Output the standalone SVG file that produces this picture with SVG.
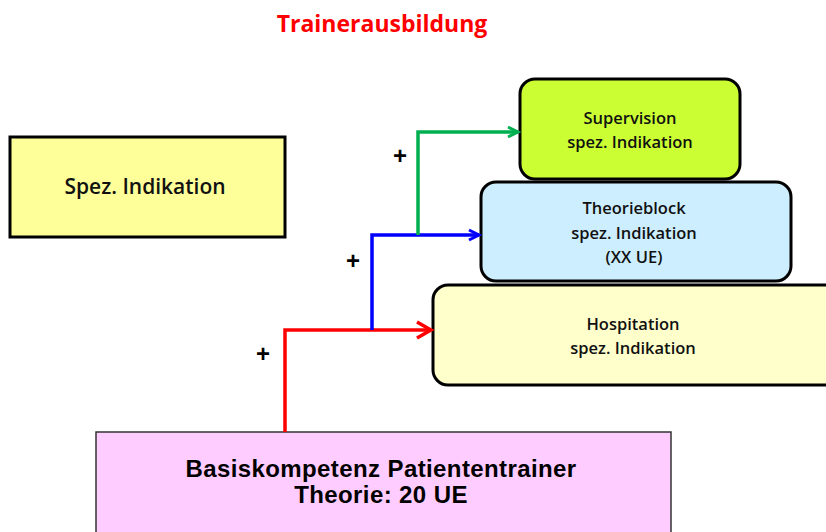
<svg xmlns="http://www.w3.org/2000/svg" width="826" height="532" viewBox="0 0 826 532">
<style>
.box{stroke:#000;stroke-width:3}
.t{font-family:"Open Sans","Noto Sans",sans-serif;font-weight:600;text-anchor:middle;fill:#111}
.s{font-size:16.5px}
.a{font-family:"Liberation Sans",Arial,sans-serif;font-weight:bold;text-anchor:middle;fill:#000;font-size:24px;letter-spacing:0.4px}
.c{fill:none;stroke-width:3.5}
.plus{font-family:"Liberation Sans",Arial,sans-serif;font-weight:bold;font-size:24px;text-anchor:middle;fill:#000}
</style>
<defs>
<marker id="mr" markerWidth="12" markerHeight="12" refX="10" refY="6" orient="auto" markerUnits="userSpaceOnUse" viewBox="0 0 12 12" overflow="visible">
<polyline points="-4,-2 10,6 -4,14" fill="none" stroke="#ff0000" stroke-width="3.5"/>
</marker>
<marker id="mb" markerWidth="12" markerHeight="12" refX="10" refY="6" orient="auto" markerUnits="userSpaceOnUse" viewBox="0 0 12 12" overflow="visible">
<polyline points="0,1 10,6 0,11" fill="none" stroke="#0000ff" stroke-width="3"/>
</marker>
<marker id="mg" markerWidth="12" markerHeight="12" refX="10" refY="6" orient="auto" markerUnits="userSpaceOnUse" viewBox="0 0 12 12" overflow="visible">
<polyline points="0,1 10,6 0,11" fill="none" stroke="#00b050" stroke-width="3"/>
</marker>
</defs>
<rect width="826" height="532" fill="#fff"/>
<text x="382" y="32" font-family="'Open Sans','Noto Sans',sans-serif" font-weight="bold" font-size="23" text-anchor="middle" fill="#ff0000">Trainerausbildung</text>

<g id="spez">
<rect class="box" x="10" y="137" width="275" height="100" fill="#ffff99"/>
<text class="t" x="145" y="194" font-size="21">Spez. Indikation</text>
</g>

<g id="supervision">
<rect class="box" x="520" y="79" width="220" height="100" rx="15" fill="#ccff33"/>
<text class="t s" x="630" y="124">Supervision</text>
<text class="t s" x="630" y="148">spez. Indikation</text>
</g>

<g id="theorieblock">
<rect class="box" x="481" y="182" width="310" height="99" rx="15" fill="#cdeefe"/>
<text class="t s" x="634" y="214">Theorieblock</text>
<text class="t s" x="634" y="239">spez. Indikation</text>
<text class="t s" x="634" y="263">(XX UE)</text>
</g>

<g id="hospitation">
<rect class="box" x="433" y="285" width="410" height="100" rx="15" fill="#ffffcc"/>
<text class="t s" x="633" y="330">Hospitation</text>
<text class="t s" x="633" y="354">spez. Indikation</text>
</g>

<g id="basis">
<rect x="96" y="432" width="575" height="110" fill="#ffccff" stroke="#333" stroke-width="1.5"/>
<text class="a" x="381" y="477">Basiskompetenz Patiententrainer</text>
<text class="a" x="381" y="503">Theorie: 20 UE</text>
</g>

<g id="connectors">
<polyline class="c" stroke="#ff0000" points="285,432 285,330 431,330" marker-end="url(#mr)"/>
<polyline class="c" stroke="#0000ff" points="372,330 372,235 479,235" marker-end="url(#mb)"/>
<polyline class="c" stroke="#00b050" points="418,235 418,132 518,132" marker-end="url(#mg)"/>
<text class="plus" x="263" y="362">+</text>
<text class="plus" x="353" y="269">+</text>
<text class="plus" x="400" y="164">+</text>
</g>
</svg>
